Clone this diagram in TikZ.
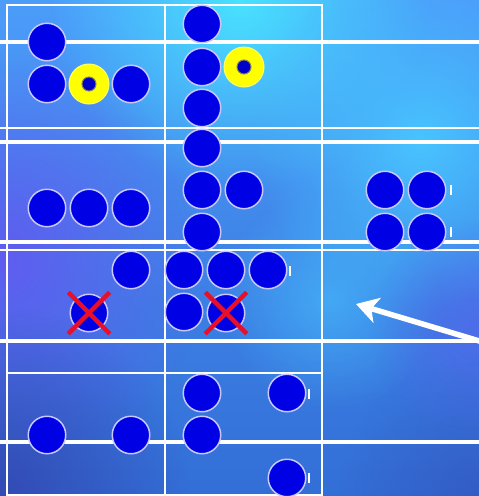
\documentclass[tikz,border=0pt]{standalone}
\usetikzlibrary{arrows.meta,shapes.misc,fadings}
\definecolor{dblue}{RGB}{0,0,228}
\definecolor{lav}{RGB}{200,200,255}
\definecolor{ringyel}{RGB}{255,255,0}
\definecolor{dotblue}{RGB}{0,0,200}
\definecolor{xred}{RGB}{232,16,40}
\definecolor{bgtop}{RGB}{76,156,250}
\definecolor{bgbot}{RGB}{50,110,214}
\definecolor{bgcyan}{RGB}{72,226,255}
\definecolor{bgpurp}{RGB}{96,92,240}
\definecolor{bgdark}{RGB}{52,74,180}
\definecolor{bglight}{RGB}{72,196,255}
\tikzfading[name=softspot, inner color=transparent!0, outer color=transparent!100]
\tikzset{
  bdisc/.style={circle, minimum size=37.5pt, inner sep=0pt, fill=dblue, draw=lav, line width=1.5pt},
  yring/.style={circle, minimum size=40pt, inner sep=0pt, fill=ringyel, draw=ringyel!60!white, line width=1pt},
  ydot/.style={circle, minimum size=14pt, inner sep=0pt, fill=dotblue, draw=dotblue!50!yellow, line width=1pt},
  xmark/.style={cross out, draw=xred, minimum size=37pt, inner sep=0pt, line width=4.5pt},
  thickline/.style={white, line width=3.6pt},
  thinline/.style={white, line width=2pt},
  tick/.style={white, line width=2pt},
  bigarrow/.style={white, line width=5.5pt, -{Stealth[length=22pt, width=26pt, inset=6pt]}}
}
\begin{document}
\begin{tikzpicture}[x=1pt, y=-1pt]
\useasboundingbox (0,0) rectangle (479,496);
% background
\shade[top color=bgtop, bottom color=bgbot] (0,0) rectangle (479,496);
\begin{scope}
\clip (0,0) rectangle (479,496);
\fill[bgcyan, path fading=softspot] (240,0) circle[radius=190];
\fill[bglight, path fading=softspot] (420,140) circle[radius=170];
\fill[bglight, path fading=softspot, opacity=0.6] (330,300) circle[radius=110];
\fill[bgpurp, path fading=softspot] (0,260) circle[radius=210];
\fill[bgpurp, path fading=softspot, opacity=0.5] (479,330) circle[radius=110];
\fill[bgdark, path fading=softspot] (0,496) circle[radius=190];
\fill[bgdark, path fading=softspot, opacity=0.5] (479,496) circle[radius=140];
\end{scope}
% grid lines
\coordinate (tl) at (7,5);
\coordinate (br) at (322,495);
\coordinate (mt) at (165,5);
\coordinate (mb) at (165,495);
\draw[thinline] (tl) rectangle (br);
\draw[thinline] (mt) -- (mb);
\draw[thinline] (0,128) -- (479,128);
\draw[thinline] (0,250) -- (479,250);
\draw[thinline] (7,373) -- (322,373);
\foreach \yy in {42,142,242,341,442} \draw[thickline] (0,\yy) -- (479,\yy);
% discs
\node[bdisc] (c1) at (47,42) {};
\node[bdisc] (c2) at (47,84) {};
\node[bdisc] (c4) at (131,84) {};
\node[bdisc] (c5) at (202,24) {};
\node[bdisc] (c6) at (202,67) {};
\node[bdisc] (c8) at (202,108) {};
\node[bdisc] (c9) at (202,148) {};
\node[bdisc] (c10) at (202,190) {};
\node[bdisc] (c11) at (244,190) {};
\node[bdisc] (c12) at (202,232) {};
\node[bdisc] (c13) at (47,208) {};
\node[bdisc] (c14) at (89,208) {};
\node[bdisc] (c15) at (131,208) {};
\node[bdisc] (c16) at (385,190) {};
\node[bdisc] (c17) at (427,190) {};
\node[bdisc] (c18) at (385,232) {};
\node[bdisc] (c19) at (427,232) {};
\node[bdisc] (c20) at (131,270) {};
\node[bdisc] (c21) at (184,270) {};
\node[bdisc] (c22) at (226,270) {};
\node[bdisc] (c23) at (268,270) {};
\node[bdisc] (c24) at (89,313) {};
\node[bdisc] (c25) at (184,312) {};
\node[bdisc] (c26) at (226,313) {};
\node[bdisc] (c27) at (202,393) {};
\node[bdisc] (c28) at (287,393) {};
\node[bdisc] (c29) at (47,435) {};
\node[bdisc] (c30) at (131,435) {};
\node[bdisc] (c31) at (202,435) {};
\node[bdisc] (c32) at (287,478) {};
% yellow rings
\node[yring] (y1) at (89,84) {};
\node[ydot] (y1d) at (y1) {};
\node[yring] (y2) at (244,67) {};
\node[ydot] (y2d) at (y2) {};
% red crosses
\node[xmark] (x1) at (c24) {};
\node[xmark] (x2) at (c26) {};
% small ticks
\foreach \tx/\ty in {309/394, 309/478, 451/190, 451/232, 290/271}
  \draw[tick] (\tx,\ty-5) -- (\tx,\ty+5);
% arrow
\coordinate (atail) at (486,343);
\coordinate (ahead) at (356,304);
\draw[bigarrow] (atail) -- (ahead);
\end{tikzpicture}
\end{document}
